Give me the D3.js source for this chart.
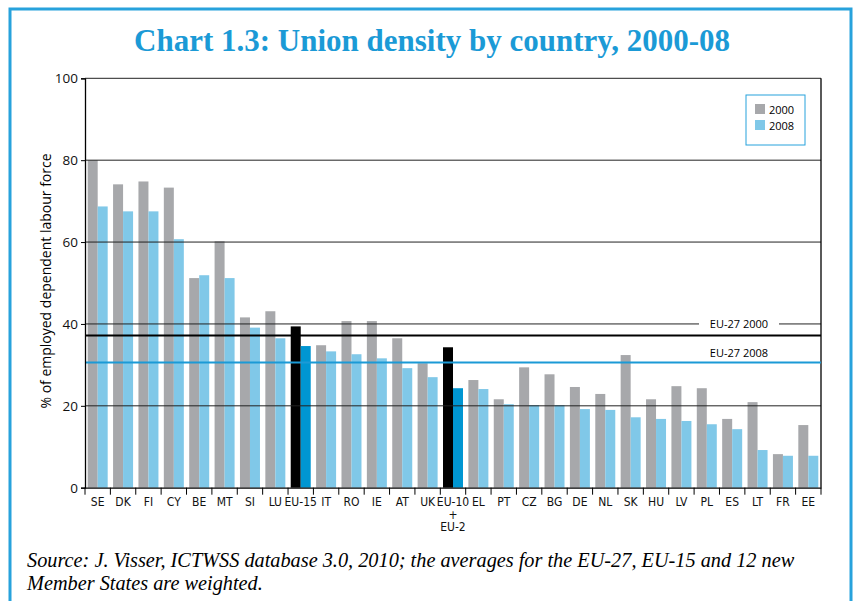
<!DOCTYPE html>
<html>
<head>
<meta charset="utf-8">
<script src="https://cdn.jsdelivr.net/npm/d3@7"></script>
<style>
  body { margin: 0; background: #fff; }
  svg { display: block; }
</style>
</head>
<body>
<script>
// data
var countries = ["SE","DK","FI","CY","BE","MT","SI","LU","EU-15","IT","RO","IE","AT","UK","EU-10+EU-2",
                 "EL","PT","CZ","BG","DE","NL","SK","HU","LV","PL","ES","LT","FR","EE"];
var density2000 = [80.0,74.1,74.8,73.3,51.2,60.2,41.6,43.1,39.4,34.8,40.7,40.7,36.5,30.4,34.3,
                   26.3,21.6,29.4,27.7,24.6,22.9,32.4,21.6,24.8,24.3,16.8,20.9,8.2,15.3];
var density2008 = [68.7,67.5,67.5,60.7,51.9,51.2,39.1,36.5,34.6,33.3,32.6,31.6,29.2,27.0,24.3,
                   24.1,20.4,20.2,20.2,19.2,19.0,17.2,16.8,16.3,15.5,14.3,9.2,7.8,7.8];
var aggregates = ["EU-15","EU-10+EU-2"];
var eu27 = {"2000": 37.2, "2008": 30.6};
var years = ["2000","2008"];
var yTicks = [0,20,40,60,80,100];

var W = 854, H = 601;
var margin = {top: 78.3, right: 33, bottom: 113.3, left: 85};

var blueFrame = "#27a2dc",
    grey = "#a7a8ab",
    lightBlue = "#80c8e8",
    darkBlue = "#0096d2";
var condensed = "'DejaVu Sans Condensed', 'DejaVu Sans', sans-serif";

var svg = d3.select("body").append("svg")
    .attr("width", W)
    .attr("height", H);

/***Frame and title***/
svg.append("rect")
   .attr("x", 10).attr("y", 9)
   .attr("width", 841).attr("height", 620)
   .attr("fill", "none")
   .attr("stroke", blueFrame)
   .attr("stroke-width", 3);

svg.append("text")
   .attr("x", 432).attr("y", 51)
   .attr("text-anchor", "middle")
   .attr("font-family", "Liberation Serif")
   .attr("font-weight", "bold")
   .attr("font-size", 31)
   .attr("fill", "#1b9ad6")
   .text("Chart 1.3: Union density by country, 2000-08");

/***Scales***/
var x = d3.scaleBand()
    .domain(countries)
    .range([margin.left, W - margin.right])
    .paddingInner(0).paddingOuter(0);
var xSeries = d3.scaleBand()
    .domain(years)
    .range([x.bandwidth() * 0.106, x.bandwidth() * 0.894])
    .padding(0);
var y = d3.scaleLinear()
    .domain([0, 100])
    .range([H - margin.bottom, margin.top]);

var rows = countries.map(function(c, i) {
  return {c: c, v: {"2000": density2000[i], "2008": density2008[i]}};
});

/***Bars***/
var groups = svg.append("g").selectAll("g")
    .data(rows)
    .enter().append("g")
    .attr("transform", function(d) { return "translate(" + x(d.c) + ",0)"; });

groups.selectAll("rect")
    .data(function(d) {
      return years.map(function(yr) { return {c: d.c, yr: yr, v: d.v[yr]}; });
    })
    .enter().append("rect")
    .attr("x", function(d) { return xSeries(d.yr); })
    .attr("y", function(d) { return y(d.v); })
    .attr("width", xSeries.bandwidth())
    .attr("height", function(d) { return y(0) - y(d.v); })
    .attr("fill", function(d) {
      var agg = aggregates.indexOf(d.c) >= 0;
      if (d.yr === "2000") return agg ? "#000" : grey;
      return agg ? darkBlue : lightBlue;
    });

/***Grid lines (over the bars)***/
var x0 = margin.left, x1 = W - margin.right;
svg.append("g").selectAll("line")
    .data(yTicks.filter(function(t) { return t > 0; }))
    .enter().append("line")
    .attr("x1", x0).attr("x2", x1)
    .attr("y1", function(d) { return y(d); })
    .attr("y2", function(d) { return y(d); })
    .attr("stroke", "#222")
    .attr("stroke-width", 1);

// right border of the plot
svg.append("line")
   .attr("x1", x1).attr("x2", x1)
   .attr("y1", y(100)).attr("y2", y(0))
   .attr("stroke", "#000").attr("stroke-width", 1.3);

/***EU-27 reference lines***/
svg.append("rect")
   .attr("x", 699).attr("y", y(40) - 6)
   .attr("width", 80).attr("height", 12)
   .attr("fill", "#fff");
svg.append("text")
   .attr("x", 739).attr("y", y(40) + 4.5)
   .attr("text-anchor", "middle")
   .attr("font-family", "Open Sans")
   .attr("font-size", 11)
   .text("EU-27 2000");

svg.append("line")
   .attr("x1", x0).attr("x2", x1)
   .attr("y1", y(eu27["2000"])).attr("y2", y(eu27["2000"]))
   .attr("stroke", "#000").attr("stroke-width", 2);
svg.append("line")
   .attr("x1", x0).attr("x2", x1)
   .attr("y1", y(eu27["2008"])).attr("y2", y(eu27["2008"]))
   .attr("stroke", "#1b9ad6").attr("stroke-width", 2);
svg.append("text")
   .attr("x", 739).attr("y", y(eu27["2008"]) - 5)
   .attr("text-anchor", "middle")
   .attr("font-family", "Open Sans")
   .attr("font-size", 11)
   .text("EU-27 2008");

/***Axes***/
var yAxis = d3.axisLeft(y).tickValues(yTicks).tickSize(4).tickPadding(3);
var gy = svg.append("g")
    .attr("transform", "translate(" + x0 + ",0)")
    .call(yAxis);
gy.select(".domain").attr("stroke", "#000").attr("stroke-width", 1.3);
gy.selectAll("text")
  .attr("font-family", "Open Sans")
  .attr("font-size", 13.5)
  .attr("fill", "#111");

svg.append("text")
   .attr("transform", "translate(51," + (y(50) - 2) + ")rotate(-90)")
   .attr("text-anchor", "middle")
   .attr("font-family", "Open Sans")
   .attr("font-size", 14)
   .text("% of employed dependent labour force");

var xAxis = d3.axisBottom(x).tickSize(0).tickPadding(10);
var gx = svg.append("g")
    .attr("transform", "translate(0," + y(0) + ")")
    .call(xAxis);
gx.select(".domain").attr("stroke", "#000").attr("stroke-width", 1.3);
gx.selectAll(".tick text")
  .attr("font-family", condensed)
  .attr("font-stretch", "condensed")
  .attr("font-size", 12)
  .attr("fill", "#111")
  .each(function(d) {
    if (d === "EU-10+EU-2") {
      var t = d3.select(this).text(null);
      ["EU-10", "+", "EU-2"].forEach(function(s, i) {
        t.append("tspan").attr("x", 0).attr("dy", i === 0 ? "0.71em" : "1.05em").text(s);
      });
    }
  });

// boundary ticks between countries
svg.append("g").selectAll("line")
    .data(countries.map(function(c) { return x(c); }).concat([x1]))
    .enter().append("line")
    .attr("x1", function(d) { return d; }).attr("x2", function(d) { return d; })
    .attr("y1", y(0)).attr("y2", y(0) + 7)
    .attr("stroke", "#000").attr("stroke-width", 1);

/***Legend***/
var legend = svg.append("g").attr("transform", "translate(746,95)");
legend.append("rect")
   .attr("width", 59).attr("height", 50)
   .attr("fill", "#fff")
   .attr("stroke", blueFrame).attr("stroke-width", 1);
legend.selectAll("g.item")
   .data(years)
   .enter().append("g")
   .attr("class", "item")
   .attr("transform", function(d, i) { return "translate(9," + (9 + i * 16) + ")"; })
   .each(function(d, i) {
     var g = d3.select(this);
     g.append("rect").attr("width", 10).attr("height", 10)
      .attr("fill", i === 0 ? grey : lightBlue);
     g.append("text").attr("x", 14).attr("y", 9.5)
      .attr("font-family", "Open Sans").attr("font-size", 11)
      .text(d);
   });

/***Source note***/
var notes = ["Source: J. Visser, ICTWSS database 3.0, 2010; the averages for the EU-27, EU-15 and 12 new",
             "Member States are weighted."];
svg.append("g").selectAll("text")
   .data(notes)
   .enter().append("text")
   .attr("x", 27)
   .attr("y", function(d, i) { return 567 + i * 23; })
   .attr("font-family", "Liberation Serif")
   .attr("font-style", "italic")
   .attr("font-size", 20.3)
   .text(function(d) { return d; });
</script>
</body>
</html>
